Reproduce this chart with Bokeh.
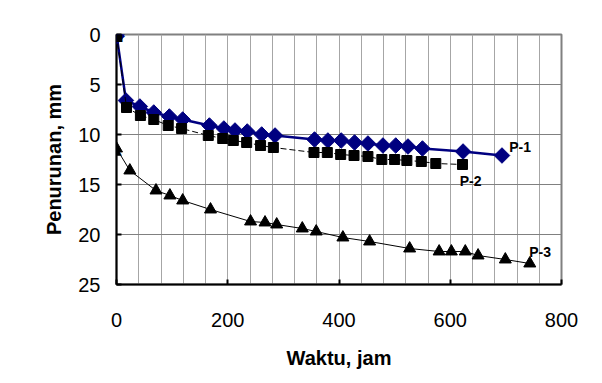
from bokeh.plotting import figure
from bokeh.models import Range1d, FixedTicker, Label
from bokeh.embed import file_html
from bokeh.resources import INLINE

# ---- data ----
p1_x = [0, 17, 42, 67, 95, 119, 167, 193, 213, 235, 261, 285, 356, 380, 404, 428, 452, 479, 502, 524, 550, 623, 693]
p1_y = [0, 6.6, 7.2, 7.8, 8.2, 8.5, 9.1, 9.4, 9.6, 9.7, 10.0, 10.1, 10.5, 10.6, 10.6, 10.8, 10.9, 11.1, 11.1, 11.2, 11.4, 11.7, 12.1]

p2_x = [0, 18, 43, 67, 93, 117, 165, 191, 210, 234, 259, 282, 355, 379, 403, 427, 452, 477, 500, 522, 548, 574, 622]
p2_y = [0, 7.3, 8.1, 8.5, 9.1, 9.4, 10.1, 10.4, 10.6, 10.8, 11.1, 11.3, 11.8, 11.8, 12.0, 12.1, 12.2, 12.5, 12.5, 12.6, 12.7, 12.9, 13.0]

p3_x = [0, 0, 24, 71, 96, 119, 169, 241, 267, 288, 334, 359, 407, 455, 527, 580, 602, 627, 650, 699, 743]
p3_y = [0, 11.4, 13.6, 15.6, 16.1, 16.6, 17.5, 18.7, 18.8, 19.0, 19.4, 19.7, 20.3, 20.7, 21.4, 21.7, 21.7, 21.7, 22.1, 22.5, 22.9]

series_names = ["P-1", "P-2", "P-3"]
x_ticks = [0, 200, 400, 600, 800]
y_ticks = [0, 5, 10, 15, 20, 25]
x_title = "Waktu, jam"
y_title = "Penurunan, mm"

# label anchor positions (data coords)
label_pos = [(706, 11.27), (617, 14.65), (742, 21.7)]
# top-left corner of the outer chart frame (data coords, outside the plot area)
frame_corner = (-189, -2.6)

FONT = "Liberation Sans"
NAVY = "#000080"

p = figure(width=600, height=380, output_backend="svg", toolbar_location=None,
           x_range=Range1d(0, 800), y_range=Range1d(25, 0),
           min_border_left=116, min_border_right=39, min_border_top=34, min_border_bottom=96)

p.background_fill_color = "white"
p.border_fill_color = "white"
p.outline_line_color = "#808080"
p.outline_line_width = 2

# grids
p.xgrid.ticker = FixedTicker(ticks=list(range(0, 801, 40)))
p.xgrid.grid_line_color = "#a6a6a6"
p.xgrid.grid_line_width = 1
p.ygrid.ticker = FixedTicker(ticks=y_ticks)
p.ygrid.grid_line_color = "#808080"
p.ygrid.grid_line_width = 1

# axes
p.xaxis.ticker = FixedTicker(ticks=x_ticks)
p.yaxis.ticker = FixedTicker(ticks=y_ticks)
for ax in (p.xaxis[0], p.yaxis[0]):
    ax.axis_line_color = "black"
    ax.axis_line_width = 2
    ax.major_tick_in = 5
    ax.major_tick_out = 0
    ax.major_tick_line_color = "black"
    ax.major_tick_line_width = 2
    ax.minor_tick_line_color = None
    ax.major_label_text_font = FONT
    ax.major_label_text_font_size = "20px"
    ax.major_label_text_color = "black"
    ax.axis_label_text_font = FONT
    ax.axis_label_text_font_size = "20px"
    ax.axis_label_text_font_style = "bold"
    ax.axis_label_text_color = "black"

p.xaxis.axis_label = x_title
p.yaxis.axis_label = y_title
p.xaxis.major_label_standoff = 28
p.xaxis.axis_label_standoff = 17
p.yaxis.major_label_standoff = 16
p.yaxis.axis_label_standoff = 10

# series
p.line(p3_x, p3_y, line_color="black", line_width=1)
p.scatter(p3_x, p3_y, marker="triangle", size=12, fill_color="black", line_color="black")

p.line(p1_x, p1_y, line_color=NAVY, line_width=2.5)
p.scatter(p1_x, p1_y, marker="square", size=11, angle=0.785398, fill_color=NAVY, line_color=NAVY)

p.line(p2_x, p2_y, line_color="black", line_width=1, line_dash="6 3")
p.scatter(p2_x, p2_y, marker="square", size=10, fill_color="black", line_color="black")

# marks at the frame corner / edge that the frame would clip
p.add_layout(Label(x=p3_x[1], y=p3_y[1], text="\u25B2", text_font="DejaVu Sans", text_font_size="14px",
                   text_color="black", text_align="center", text_baseline="middle"))
p.add_layout(Label(x=p1_x[0], y=p1_y[0], text="\u25C6", text_font="DejaVu Sans", text_font_size="22px",
                   text_color=NAVY, text_align="center", text_baseline="middle"))
p.add_layout(Label(x=p2_x[0], y=p2_y[0], text="\u25A0", text_font="DejaVu Sans", text_font_size="15px",
                   text_color="black", text_align="center", text_baseline="middle"))

for name, (lx, ly) in zip(series_names, label_pos):
    p.add_layout(Label(x=lx, y=ly, text=name, text_font=FONT, text_font_size="14px",
                       text_font_style="bold", text_color="black", text_baseline="middle",
                       text_align="left"))

# outer chart frame: only its left and top edges fall inside the picture
p.add_layout(Label(x=frame_corner[0], y=frame_corner[1], text=" ", text_font_size="2px",
                   text_align="left", text_baseline="top",
                   padding=dict(left=0, top=0, right=900, bottom=900),
                   border_line_color="black", border_line_width=2,
                   background_fill_color=None, level="underlay"))

open("out.html", "w").write(file_html(p, INLINE))
